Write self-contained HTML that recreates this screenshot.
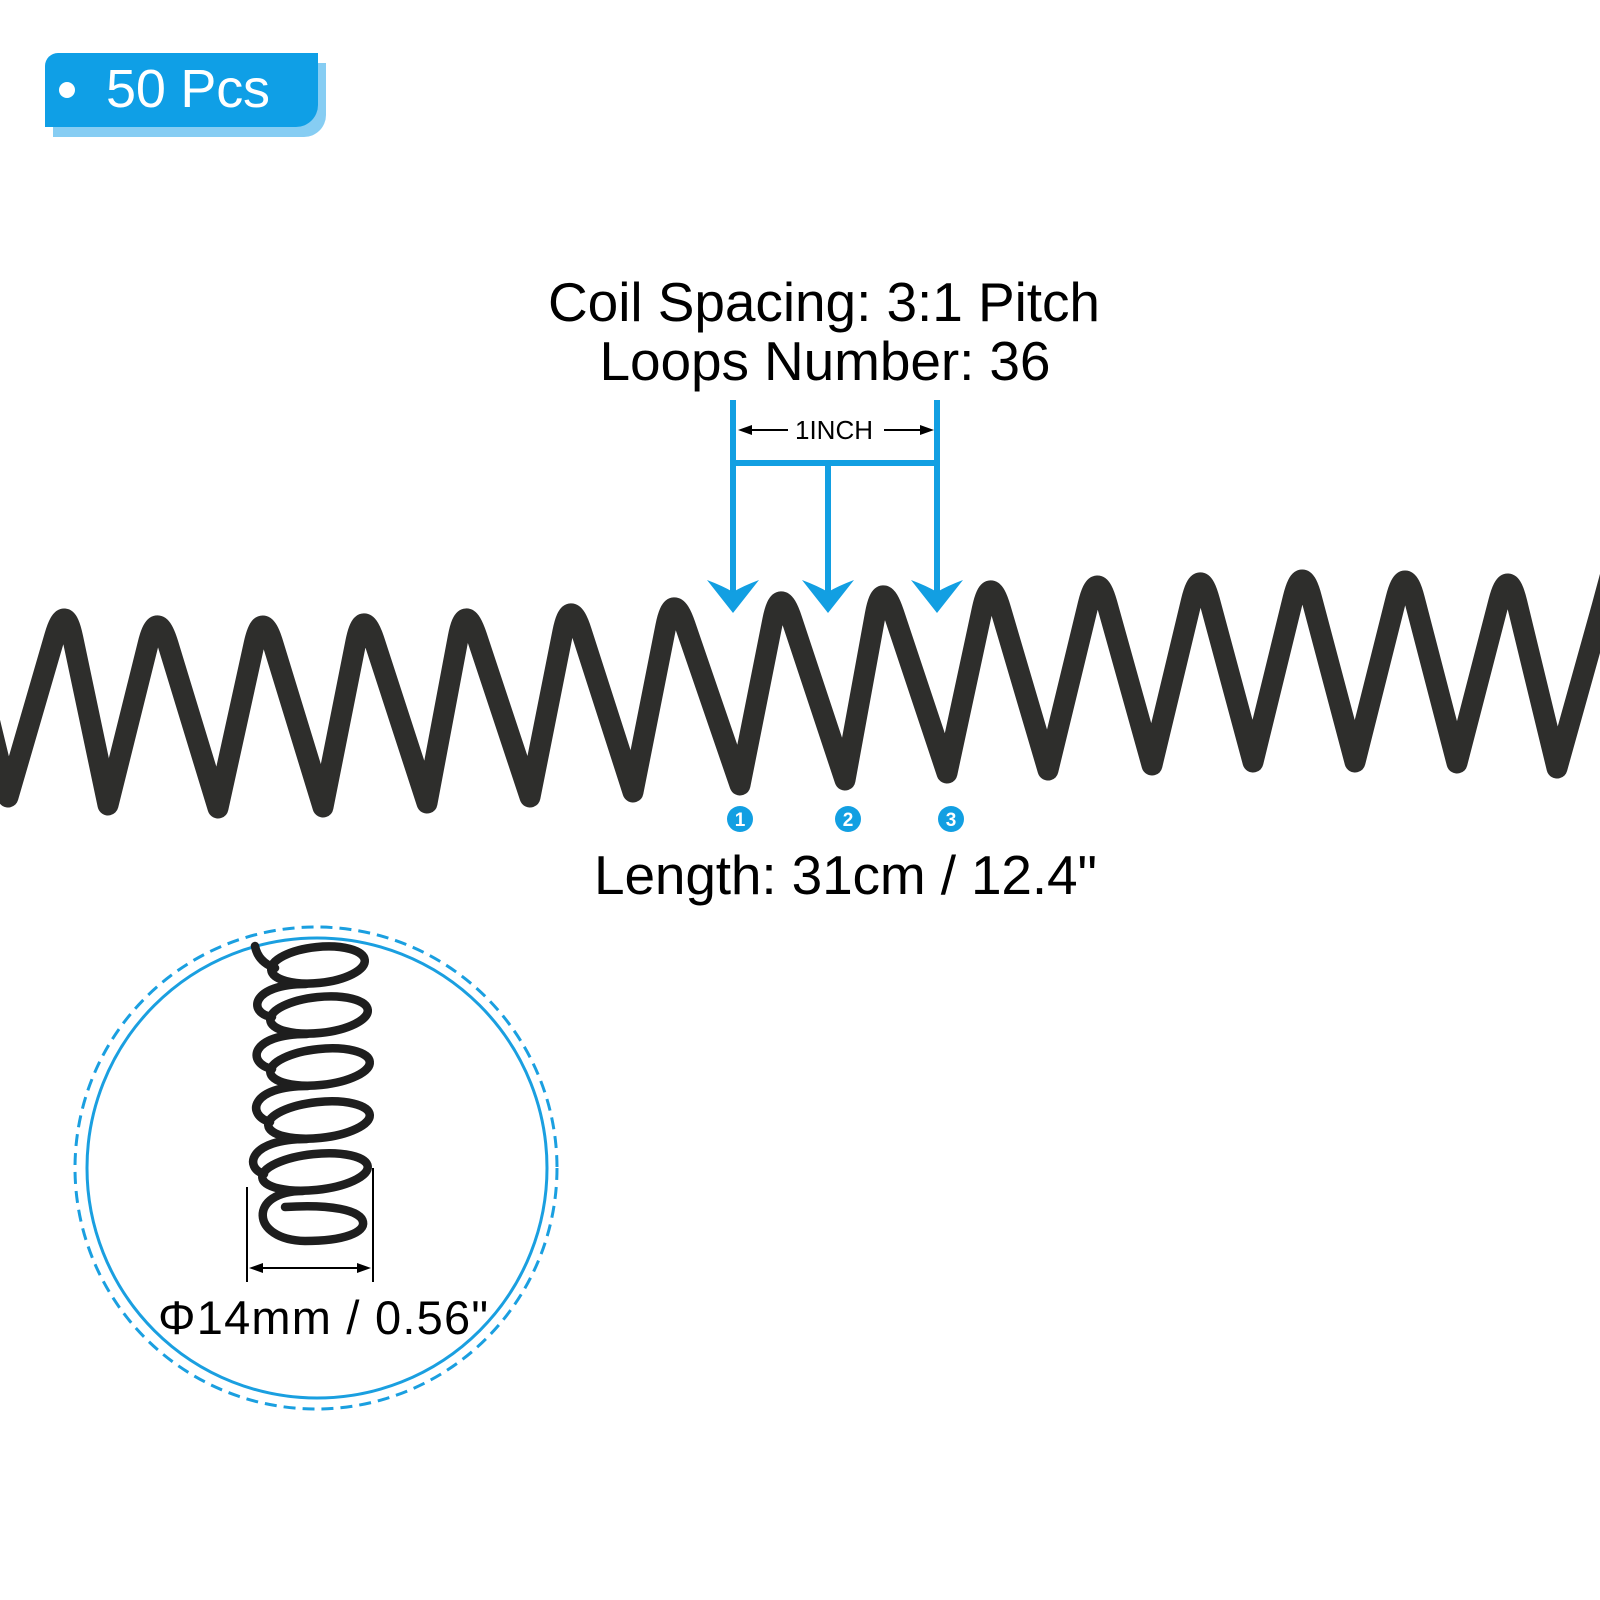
<!DOCTYPE html>
<html>
<head>
<meta charset="utf-8">
<style>
  html, body { margin: 0; padding: 0; background: #ffffff; }
  body { width: 1600px; height: 1600px; overflow: hidden; }
  svg { display: block; }
  text { font-family: "Liberation Sans", Arial, sans-serif; }
</style>
</head>
<body>
<svg width="1600" height="1600" viewBox="0 0 1600 1600" xmlns="http://www.w3.org/2000/svg">
  <rect x="0" y="0" width="1600" height="1600" fill="#ffffff"/>

  <!-- Badge -->
  <path d="M53,63 H326 V115 A22,22 0 0 1 304,137 H53 Z" fill="#86cdf3"/>
  <path d="M58,53 H318 V105 A22,22 0 0 1 296,127 H45 V66 A13,13 0 0 1 58,53 Z" fill="#0f9fe6"/>
  <circle cx="67" cy="90" r="8" fill="#ffffff"/>
  <text x="106" y="107" font-size="54" fill="#ffffff" textLength="164">50 Pcs</text>

  <!-- Title -->
  <text x="824" y="321" font-size="55" fill="#000" text-anchor="middle" textLength="552">Coil Spacing: 3:1 Pitch</text>
  <text x="825" y="380" font-size="55" fill="#000" text-anchor="middle" textLength="451">Loops Number: 36</text>

  <!-- Blue pitch indicator -->
  <g fill="#129fe2">
    <rect x="730" y="400" width="6" height="194"/>
    <rect x="934" y="400" width="6" height="194"/>
    <rect x="825" y="460" width="6" height="134"/>
    <rect x="730" y="460" width="210" height="6"/>
    <path d="M707,580 Q723,586 733,592 Q743,586 759,580 L733,613 Z"/>
    <path d="M802,580 Q818,586 828,592 Q838,586 854,580 L828,613 Z"/>
    <path d="M911,580 Q927,586 937,592 Q947,586 963,580 L937,613 Z"/>
  </g>

  <!-- 1INCH -->
  <text x="795" y="439" font-size="26" fill="#000" textLength="78">1INCH</text>
  <g stroke="#000" stroke-width="2">
    <line x1="748" y1="430" x2="788" y2="430"/>
    <line x1="884" y1="430" x2="924" y2="430"/>
  </g>
  <polygon points="738,430 752,425 752,435" fill="#000"/>
  <polygon points="934,430 920,425 920,435" fill="#000"/>

  <!-- Main spring -->
  <path fill="none" stroke="#2e2e2c" stroke-width="21" stroke-linejoin="round" stroke-linecap="round"
    d="M -40,600 L 8,797
       L 54.7,636.3 Q 65,601 72.7,637.7 L 108,805
       L 148.2,643.5 Q 157,608 168,644 L 218,808
       L 254.1,644 Q 262,608 273,643.8 L 323,807
       L 355.8,642.2 Q 363,606 374.5,641.5 L 427,803
       L 458.2,637.4 Q 465,601 476.7,636.3 L 530,797
       L 562.8,632.2 Q 570,596 581.3,631.3 L 633,792
       L 665.8,626.4 Q 673,590 685.1,625.1 L 740,785
       L 772.8,620.2 Q 780,584 791.7,619.3 L 845,780
       L 875.3,614.4 Q 882,578 893.7,613.1 L 947,773
       L 982.3,609 Q 990,573 1000.4,608.5 L 1048,770
       L 1088.2,604.4 Q 1097,568 1106.9,603.5 L 1152,765
       L 1191.4,601 Q 1200,565 1209.5,600.5 L 1253,762
       L 1293.2,598 Q 1302,562 1311.5,598 L 1355,762
       L 1396,598.8 Q 1405,563 1414.4,599 L 1457,763
       L 1498.8,601.5 Q 1508,566 1516.8,602.4 L 1557,768
       L 1602.1,606.5 L 1620,540"/>

  <!-- Numbered markers -->
  <g>
    <circle cx="740" cy="819" r="13" fill="#129fe2"/>
    <circle cx="848" cy="819" r="13" fill="#129fe2"/>
    <circle cx="951" cy="819" r="13" fill="#129fe2"/>
    <text x="740" y="826" font-size="19" font-weight="bold" fill="#fff" text-anchor="middle">1</text>
    <text x="848" y="826" font-size="19" font-weight="bold" fill="#fff" text-anchor="middle">2</text>
    <text x="951" y="826" font-size="19" font-weight="bold" fill="#fff" text-anchor="middle">3</text>
  </g>

  <!-- Length -->
  <text x="594" y="894" font-size="55" fill="#000" textLength="503">Length: 31cm / 12.4"</text>

  <!-- Inset circles -->
  <circle cx="316" cy="1168" r="241" fill="none" stroke="#1a9fe0" stroke-width="3" stroke-dasharray="12 7"/>
  <circle cx="317" cy="1168" r="230" fill="none" stroke="#1a9fe0" stroke-width="3"/>

  <!-- Inset spring -->
  <g fill="none" stroke="#1e1e1e" stroke-width="8.5" stroke-linejoin="round" stroke-linecap="round">
    <path d="M 255,946 Q 258,962 275,968"/>
    <ellipse cx="318" cy="965" rx="47" ry="18" transform="rotate(-6 318 965)"/>
    <ellipse cx="319" cy="1015" rx="49" ry="18" transform="rotate(-6 319 1015)"/>
    <ellipse cx="320" cy="1067" rx="50" ry="18" transform="rotate(-6 320 1067)"/>
    <ellipse cx="319" cy="1120" rx="51" ry="18" transform="rotate(-6 319 1120)"/>
    <ellipse cx="315" cy="1172" rx="53" ry="18" transform="rotate(-6 315 1172)"/>
    <path d="M 306,984 C 251,984 247,1013 272,1017"/>
    <path d="M 307,1034 C 250,1034 246,1063 272,1069"/>
    <path d="M 308,1086 C 250,1086 246,1115 270,1122"/>
    <path d="M 307,1139 C 248,1139 244,1168 264,1174"/>
    <path d="M 303,1191 C 248,1191 250,1240 305,1241 C 345,1241 365,1232 363,1222 C 361,1210 330,1204 285,1207"/>
  </g>

  <!-- Inset dimension -->
  <g stroke="#000" stroke-width="2">
    <line x1="247" y1="1187" x2="247" y2="1282"/>
    <line x1="373" y1="1168" x2="373" y2="1282"/>
    <line x1="258" y1="1268" x2="362" y2="1268"/>
  </g>
  <polygon points="249,1268 263,1263 263,1273" fill="#000"/>
  <polygon points="371,1268 357,1263 357,1273" fill="#000"/>
  <text x="158" y="1334" font-size="47" fill="#000" textLength="330">Φ14mm / 0.56"</text>
</svg>
</body>
</html>
